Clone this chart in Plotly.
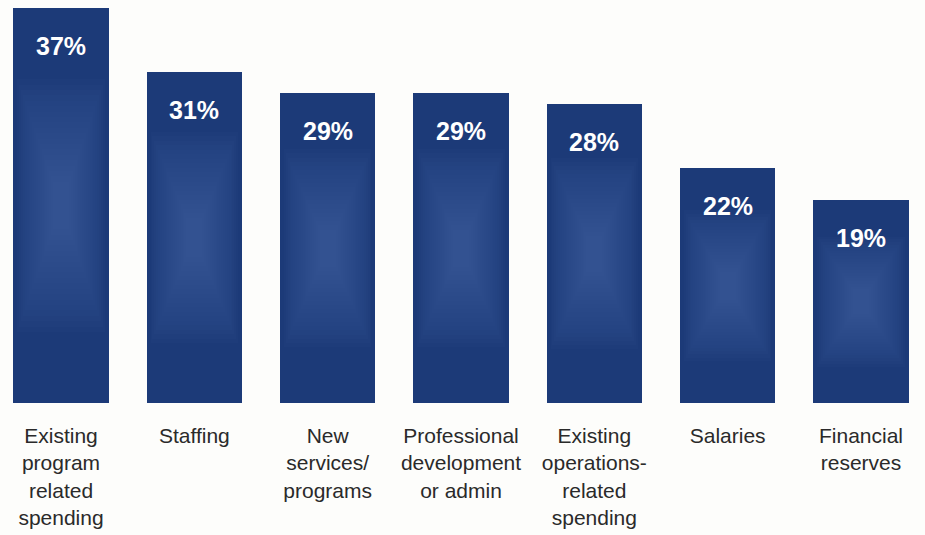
import plotly.graph_objects as go

# Survey results: share of respondents by area of planned spending
categories = [
    "Existing<br>program<br>related<br>spending",
    "Staffing",
    "New<br>services/<br>programs",
    "Professional<br>development<br>or admin",
    "Existing<br>operations-<br>related<br>spending",
    "Salaries",
    "Financial<br>reserves",
]
values = [37, 31, 29, 29, 28, 22, 19]

BAR_WIDTH = 0.713
BASE_COLOR = "#1c3a78"
GLOW_RGB = "100,130,200"
N_GLOW = 20
GLOW_CENTER = 0.5

x_idx = list(range(len(categories)))

fig = go.Figure()

# Main bars
fig.add_trace(go.Bar(
    x=x_idx, y=values, width=BAR_WIDTH,
    marker=dict(color=BASE_COLOR, line=dict(width=0)),
    hoverinfo="skip", showlegend=False,
))

# Soft central glow: stacked translucent bars, each smaller than the last
for k in range(N_GLOW):
    t = k / (N_GLOW - 1)
    wfrac = 0.92 - 0.75 * t
    hfrac = 0.64 - 0.52 * t
    fig.add_trace(go.Bar(
        x=x_idx,
        y=[v * hfrac for v in values],
        base=[v * (GLOW_CENTER - hfrac / 2) for v in values],
        width=BAR_WIDTH * wfrac,
        marker=dict(color=f"rgba({GLOW_RGB},0.032)", line=dict(width=0)),
        hoverinfo="skip", showlegend=False,
    ))

# Percentage labels near the top of each bar
for i, v in enumerate(values):
    fig.add_annotation(
        x=i, y=v, text=f"{v}%", showarrow=False,
        xref="x", yref="y", yanchor="middle", yshift=-38,
        font=dict(family="Liberation Sans, Arial, sans-serif", size=25,
                  color="white", weight="bold"),
    )

fig.update_layout(
    width=925, height=535,
    margin=dict(l=0, r=0, t=0, b=132),
    paper_bgcolor="#fdfdfb", plot_bgcolor="#fdfdfb",
    barmode="overlay", bargap=0,
    xaxis=dict(
        tickmode="array", tickvals=x_idx, ticktext=categories,
        range=[-0.4575, 6.48], showgrid=False, zeroline=False,
        showline=False, ticks="", ticklabelstandoff=18,
        tickfont=dict(family="Liberation Sans, Arial, sans-serif", size=21,
                      color="#2a2a2a"),
    ),
    yaxis=dict(range=[0, 37.76], visible=False, showgrid=False),
)

fig.write_html("out.html")
